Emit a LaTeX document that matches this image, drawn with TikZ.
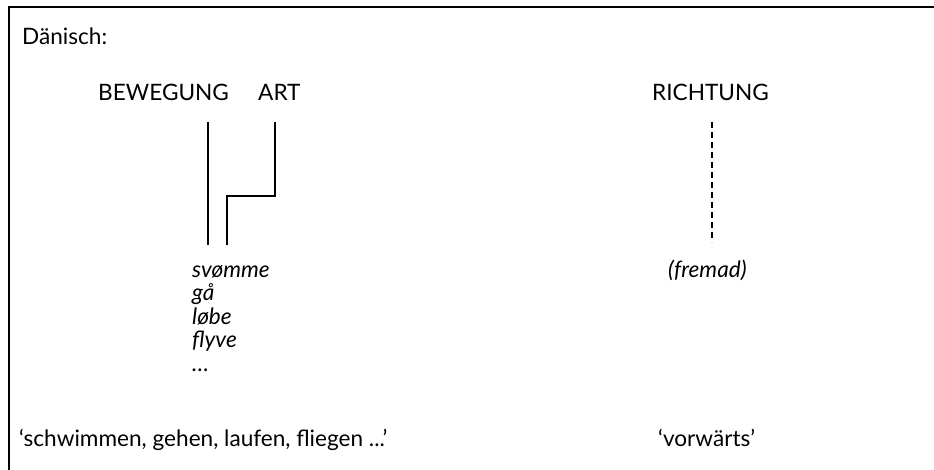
\documentclass[tikz,border=0pt]{standalone}
\usepackage{fontspec}
\setmainfont{Lato}
\begin{document}
\begin{tikzpicture}[x=1pt,y=-1pt,
  txt/.style={anchor=base west, inner sep=0pt, font=\fontsize{22.6}{26}\selectfont},
  itx/.style={txt, font=\fontsize{22.6}{26}\selectfont\itshape},
  link/.style={line width=2pt},
  dlink/.style={line width=2pt, dash pattern=on 6pt off 4pt}]
\useasboundingbox (0,0) rectangle (934,470);
% open frame: top and left edges
\draw[line width=2.2pt] (934,7) -- (9,7) -- (9,470);

\node[txt] (lang) at (22,45) {Dänisch:};
\node[txt] (bew)  at (98,101) {BEWEGUNG};
\node[txt] (art)  at (258,101) {ART};
\node[txt] (rich) at (652,101) {RICHTUNG};

\node[itx] (v1) at (192,277) {svømme};
\node[itx] (v2) at (192,300.5) {gå};
\node[itx] (v3) at (192,324) {løbe};
\node[itx] (v4) at (192,347.5) {flyve};
\node[itx] (v5) at (192,371) {…};
\node[itx] (dir) at (668,277) {(fremad)};

\node[txt] (gl1) at (19,446) {‘schwimmen, gehen, laufen, fliegen ...’};
\node[txt] (gl2) at (658,446) {‘vorwärts’};

% connectors from the concept labels down to the verbs
\coordinate (bewtop) at (207.5,122);
\coordinate (bewend) at (207.5,245);
\coordinate (arttop) at (275,122);
\coordinate (artbend) at (275,196);
\coordinate (artend) at (227,245);
\coordinate (richtop) at (712,122);
\coordinate (richend) at (712,242);

\draw[link] (bewtop) -- (bewend);
\draw[link] (arttop) -- (artbend) -| (artend);
\draw[dlink] (richtop) -- (richend);
\end{tikzpicture}
\end{document}
